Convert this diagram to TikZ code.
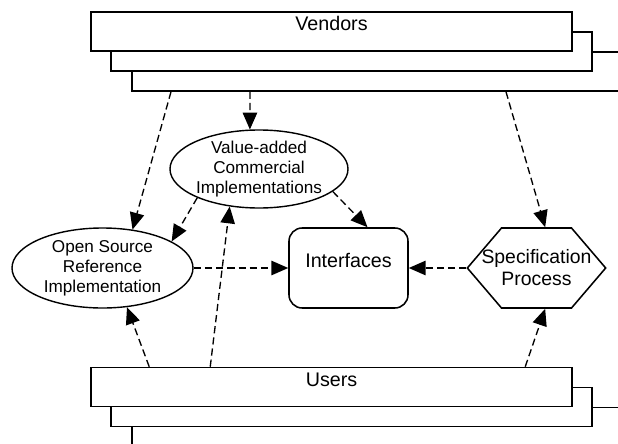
\documentclass[tikz,border=0pt]{standalone}
\usepackage{fontspec}
\setmainfont{Liberation Sans}
\usetikzlibrary{arrows.meta, shapes.geometric, shapes.symbols}

\begin{document}
\begin{tikzpicture}[
	stack/.style={rectangle, draw, fill=white, line width=1.1pt, minimum width=12.025cm, minimum height=0.975cm, inner sep=0pt, text height=0.3cm, text depth=0.35cm, font=\fontsize{14}{16}\selectfont},
	impl/.style={ellipse, draw, line width=1pt, align=center, inner xsep=0pt, inner ysep=-0.3cm, font=\fontsize{12.2}{14.2}\selectfont},
	flow/.style={dash pattern=on 0.18cm off 0.1cm, line width=0.95pt, -{Triangle[length=0.42cm, width=0.36cm]}}
]

\useasboundingbox (0, 0) rectangle (15.45, 11.075);
\clip (0, 0) rectangle (15.45, 11.075);

\node(vendors3) [stack, minimum width=13cm, anchor=west] at (3.275, 9.2875) {};
\node(vendors2) [stack] at (8.7875, 9.7875) {};
\node(vendors) [stack] at (8.2875, 10.2875) {Vendors};

\node(users3) [stack, minimum width=13cm, anchor=west] at (3.275, 0.4) {};
\node(users2) [stack] at (8.7875, 0.9) {};
\node(users) [stack] at (8.2875, 1.4) {Users};

\node(commercial) [impl, minimum width=4.45cm, minimum height=1.95cm] at (6.475, 6.85) {
	Value-added\\
	Commercial\\
	Implementations
};
\node(reference) [impl, minimum width=4.525cm, minimum height=2cm] at (2.5625, 4.375) {
	Open Source\\
	Reference\\
	Implementation
};

\node(interfaces) [rectangle, rounded corners=0.33cm, draw, line width=1.1pt, minimum width=2.975cm, minimum height=2cm, text height=0.3cm, text depth=0.35cm, font=\fontsize{14}{16}\selectfont] at (8.7125, 4.375) {Interfaces};

\node(spec) [signal, signal to=east and west, signal pointer angle=99, draw, line width=1.1pt, align=center, minimum height=2cm, inner xsep=-0.5cm, inner ysep=0pt, font=\fontsize{13.8}{15.6}\selectfont] at (13.4125, 4.375) {Specification\\ Process};

\draw [flow] ([xshift=1cm]vendors3.south west) -- (reference.52);
\draw [flow] ([xshift=2.975cm]vendors3.south west) -- (commercial.103);
\draw [flow] ([xshift=9.375cm]vendors3.south west) -- (spec.78);
\draw [flow] (commercial.205) -- (reference.21);
\draw [flow] (commercial.-17) -- (interfaces.65);
\draw [flow] (reference.east) -- (interfaces.west);
\draw [flow] (spec.west) -- (interfaces.east);
\draw [flow] ([xshift=1.475cm]users.north west) -- (reference.-58);
\draw [flow] ([xshift=3cm]users.north west) -- (commercial.232);
\draw [flow] ([xshift=10.875cm]users.north west) -- (spec.-78);

\end{tikzpicture}
\end{document}
